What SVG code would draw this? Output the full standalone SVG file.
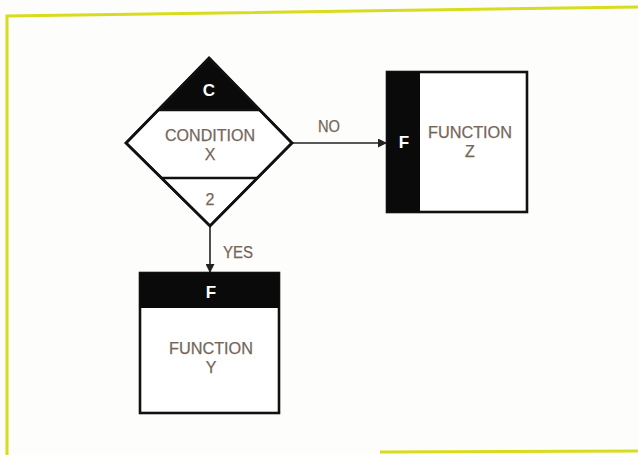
<svg xmlns="http://www.w3.org/2000/svg" width="638" height="455" viewBox="0 0 638 455">
  <style>
    .frame { fill: none; stroke: #d8dc1e; stroke-width: 3; }
    .shape { fill: #ffffff; stroke: #111111; stroke-width: 2.6; stroke-linejoin: miter; }
    .band { fill: #0a0a0a; }
    .rule { stroke: #111111; stroke-width: 2.4; }
    .wire { fill: none; stroke: #222222; stroke-width: 1.6; }
    .lbl { font-family: "Liberation Sans", Arial, sans-serif; font-size: 16px; fill: #76665a; text-anchor: middle; stroke: #76665a; stroke-width: 0.25; }
    .tag { font-family: "Liberation Sans", Arial, sans-serif; font-size: 17px; font-weight: bold; fill: #ffffff; text-anchor: middle; }
  </style>
  <defs>
    <marker id="arrow" viewBox="0 0 10 10" refX="10" refY="5" markerWidth="11" markerHeight="9" markerUnits="userSpaceOnUse" orient="auto">
      <path d="M0,0 L10,5 L0,10 Z" fill="#222222"/>
    </marker>
  </defs>

  <rect width="638" height="455" fill="#fdfdfb"/>

  <!-- outer frame -->
  <path class="frame" d="M7,455 L7,16 L638,7"/>
  <path class="frame" d="M380,452 L638,451"/>

  <!-- connectors -->
  <g id="connectors">
    <line class="wire" x1="292" y1="143" x2="387" y2="143" marker-end="url(#arrow)"/>
    <text class="lbl" x="329" y="132" textLength="22" lengthAdjust="spacingAndGlyphs">NO</text>
    <line class="wire" x1="210" y1="226" x2="210" y2="273" marker-end="url(#arrow)"/>
    <text class="lbl" x="238" y="258" textLength="30" lengthAdjust="spacingAndGlyphs">YES</text>
  </g>

  <!-- decision C -->
  <g id="condition-x">
    <polygon class="shape" points="209,58 292,143 210,226 126,143"/>
    <polygon class="band" points="209,58 260,110 158,110"/>
    <line class="rule" x1="158" y1="110" x2="260" y2="110"/>
    <line class="rule" x1="162" y1="178" x2="257" y2="178"/>
    <polygon fill="none" stroke="#111111" stroke-width="2.6" points="209,58 292,143 210,226 126,143"/>
    <text class="tag" x="209" y="96">C</text>
    <text class="lbl" x="210" y="141" textLength="90" lengthAdjust="spacingAndGlyphs">CONDITION</text>
    <text class="lbl" x="210" y="160">X</text>
    <text class="lbl" x="210" y="205">2</text>
  </g>

  <!-- function Z -->
  <g id="function-z">
    <rect class="shape" x="387" y="72" width="140" height="140"/>
    <rect class="band" x="387" y="72" width="33" height="140"/>
    <text class="tag" x="404" y="148">F</text>
    <text class="lbl" x="470" y="138" textLength="84" lengthAdjust="spacingAndGlyphs">FUNCTION</text>
    <text class="lbl" x="470" y="157">Z</text>
  </g>

  <!-- function Y -->
  <g id="function-y">
    <rect class="shape" x="140" y="273" width="139" height="140"/>
    <rect class="band" x="140" y="273" width="139" height="35"/>
    <text class="tag" x="211" y="298">F</text>
    <text class="lbl" x="211" y="354" textLength="84" lengthAdjust="spacingAndGlyphs">FUNCTION</text>
    <text class="lbl" x="211" y="373">Y</text>
  </g>
</svg>
